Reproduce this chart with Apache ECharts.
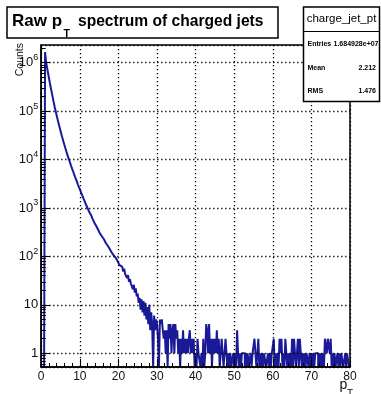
<!DOCTYPE html>
<html>
<head>
<meta charset="utf-8">
<script src="https://cdn.jsdelivr.net/npm/echarts@6/dist/echarts.min.js"></script>
<style>
  html, body { margin: 0; padding: 0; background: #fff; }
  #chart { width: 381px; height: 394px; }
</style>
</head>
<body>
<div id="chart"></div>
<script>
// Raw pT spectrum of charged jets: counts per 0.25 GeV bin, 0-80 GeV
const BIN_WIDTH = 0.25;

// 0 - 13 GeV
const countsCore = [
  0, 0, 0, 0,
  1660000, 1060000, 809000, 627000, 488000, 382000, 301000, 238000, 190000, 152000, 122000, 99300,
  81800, 67600, 56200, 46900, 39300, 33000, 27900, 23700, 20200, 17300, 14900, 12800, 11100, 9690, 8470, 7430,
  6520, 5740, 5060, 4460, 3940, 3490, 3090, 2740, 2440, 2170, 1930, 1730, 1540, 1390, 1230, 1120,
  1000, 915, 815, 755
];

// 13 - 30 GeV
const countsFall = [
  690, 612, 584, 503,
  482, 425, 409, 355,
  349, 296, 305, 258,
  259, 226, 224, 190,
  201, 166, 168, 143,
  147, 121, 133, 106,
  110, 95, 94, 81,
  86, 67, 71, 61,
  60, 49, 56, 43,
  45, 36, 41, 30,
  34, 27, 29, 21,
  26, 18, 22, 15,
  17, 11, 14, 8,
  13, 7, 12, 6,
  11, 5, 9, 4,
  10, 3, 7, 4,
  0, 6, 3, 5
];

// 30 - 80 GeV
const countsTail = [
  4, 2, 0, 5,   4, 5, 3, 2,   3, 1, 3, 0,   4, 2, 4, 1,   3, 4, 1, 4,
  2, 3, 1, 2,   0, 2, 1, 3,   1, 2, 1, 2,   1, 2, 3, 1,   2, 1, 2, 0,
  1, 0, 2, 1,   1, 0, 1, 0,   2, 0, 1, 4,   3, 1, 4, 1,   2, 0, 2, 1,
  2, 1, 3, 1,   2, 0, 1, 2,   1, 0, 1, 2,   1, 0, 1, 0,   1, 0, 0, 1,
  0, 1, 0, 3,   1, 0, 1, 0,   1, 1, 1, 0,   1, 0, 1, 0,   0, 1, 0, 1,
  1, 2, 1, 0,   1, 2, 0, 1,   0, 1, 0, 1,   1, 0, 0, 1,   0, 1, 0, 1,
  1, 2, 0, 1,   0, 1, 0, 2,   1, 2, 0, 1,   0, 2, 1, 0,   1, 0, 1, 0,
  2, 0, 2, 1,   0, 1, 2, 0,   2, 1, 0, 1,   0, 1, 0, 1,   1, 0, 1, 0,
  1, 0, 1, 0,   1, 1, 1, 0,   1, 0, 1, 0,   1, 0, 2, 2,   1, 2, 2, 1,
  2, 0, 1, 0,   1, 0, 0, 1,   0, 1, 0, 1,   1, 0, 0, 1,   0, 1, 1, 0
];

const xTicks = [0, 10, 20, 30, 40, 50, 60, 70, 80];
const Y_MIN = 0.5213;
const Y_MAX = 2.322e6;

const titleParts = ['Raw p', 'T', 'spectrum of charged jets'];
const statsName = 'charge_jet_pt';
const statsRows = [
  ['Entries', '1.684928e+07'],
  ['Mean', '2.212'],
  ['RMS', '1.476']
];
const xTitle = ['p', 'T'];
const yTitle = 'Counts';

const FONT = '"Liberation Sans", Arial, Helvetica, sans-serif';
const INK = '#111';
const LINE_BLUE = '#1a1a99';

// histogram as a step line over bin lower edges; empty bins sit on the axis floor
const counts = countsCore.concat(countsFall, countsTail);
const histPoints = counts.map((c, i) => [xTicks[0] + i * BIN_WIDTH, c > 0 ? c : Y_MIN]);
histPoints.push([xTicks[xTicks.length - 1], histPoints[histPoints.length - 1][1]]);

// minor ticks of the log axis (2..9 x 10^n), expressed in log10 units
const logLo = Math.log10(Y_MIN), logHi = Math.log10(Y_MAX);
const logMinor = [];
for (let e = -1; e <= 6; e++) {
  for (let k = 2; k <= 9; k++) {
    const v = e + Math.log10(k);
    if (v > logLo && v < logHi) logMinor.push(v);
  }
}

const dotted = { color: '#000', width: 1.3, type: [1.3, 2.7] };

function decadeLabel(v) {
  const lg = Math.log10(v);
  const e = Math.round(lg);
  if (Math.abs(lg - e) > 0.01) return '';
  if (e === 0) return '1';
  if (e === 1) return '10';
  return '10{sup|' + e + '}';
}

const chart = echarts.init(document.getElementById('chart'), null, { renderer: 'canvas' });

const option = {
  animation: false,
  backgroundColor: '#fff',
  grid: {
    left: 41.2, right: 31, top: 45, bottom: 27,
    show: true, borderColor: '#000', borderWidth: 1.5, backgroundColor: 'transparent', z: 3
  },
  xAxis: {
    type: 'value',
    min: xTicks[0], max: xTicks[xTicks.length - 1], interval: xTicks[1] - xTicks[0],
    z: 3,
    axisLine: { show: true, onZero: false, lineStyle: { color: '#000', width: 1.5 } },
    axisTick: { show: true, inside: true, length: 8, lineStyle: { color: '#000', width: 1 } },
    minorTick: { show: true, splitNumber: 5, length: 4, lineStyle: { color: '#000', width: 1 } },
    axisLabel: { margin: 4, fontFamily: FONT, fontSize: 12, color: INK },
    splitLine: { show: true, lineStyle: dotted },
    minorSplitLine: { show: false }
  },
  yAxis: [
    {
      type: 'log', logBase: 10, min: Y_MIN, max: Y_MAX, position: 'left', z: 3,
      axisLine: { show: true, onZero: false, lineStyle: { color: '#000', width: 1.5 } },
      axisTick: { show: true, inside: true, length: 9, lineStyle: { color: '#000', width: 1 } },
      axisLabel: {
        margin: 3, fontFamily: FONT, fontSize: 13, color: INK,
        showMinLabel: false, showMaxLabel: false,
        formatter: decadeLabel,
        rich: { sup: { fontFamily: FONT, fontSize: 9, color: INK, padding: [0, 0, 10, 0] } }
      },
      splitLine: { show: true, lineStyle: dotted }
    },
    {
      type: 'value', min: logLo, max: logHi, position: 'left', z: 3,
      axisLine: { show: false },
      axisLabel: { show: false },
      splitLine: { show: false },
      axisTick: { show: true, inside: true, length: 4.5, customValues: logMinor, lineStyle: { color: '#000', width: 1 } }
    }
  ],
  series: [{
    type: 'line',
    yAxisIndex: 0,
    data: histPoints,
    step: 'end',
    symbol: 'none',
    clip: true,
    silent: true,
    z: 2,
    lineStyle: { color: LINE_BLUE, width: 2 }
  }],
  graphic: [
    // title pave
    { type: 'rect', z: 10, shape: { x: 7, y: 7, width: 271, height: 31 },
      style: { fill: '#fff', stroke: '#000', lineWidth: 1.5 } },
    { type: 'text', z: 11, x: 12, y: 21.4,
      style: { text: titleParts[0], font: 'bold 17px ' + FONT, fill: '#000', verticalAlign: 'middle' } },
    { type: 'text', z: 11, x: 63.5, y: 34,
      style: { text: titleParts[1], font: 'bold 10.5px ' + FONT, fill: '#000', verticalAlign: 'middle' } },
    { type: 'text', z: 11, x: 78, y: 21.4,
      style: { text: titleParts[2], font: 'bold 15.6px ' + FONT, fill: '#000', verticalAlign: 'middle' } },

    // statistics box
    { type: 'rect', z: 10, shape: { x: 303.5, y: 7, width: 76, height: 94.5 },
      style: { fill: '#fff', stroke: '#000', lineWidth: 1.5 } },
    { type: 'line', z: 11, shape: { x1: 303.5, y1: 31.5, x2: 379.5, y2: 31.5 },
      style: { stroke: '#000', lineWidth: 1.2 } },
    { type: 'text', z: 11, x: 341.5, y: 19,
      style: { text: statsName, font: '11.5px ' + FONT, fill: '#000', align: 'center', verticalAlign: 'middle' } },
    { type: 'text', z: 11, x: 307.5, y: 44.3,
      style: { text: statsRows[0][0], font: 'bold 7px ' + FONT, fill: '#000', verticalAlign: 'middle' } },
    { type: 'text', z: 11, x: 378.5, y: 44.3,
      style: { text: statsRows[0][1], font: 'bold 7px ' + FONT, fill: '#000', align: 'right', verticalAlign: 'middle' } },
    { type: 'text', z: 11, x: 307.5, y: 67.7,
      style: { text: statsRows[1][0], font: 'bold 7px ' + FONT, fill: '#000', verticalAlign: 'middle' } },
    { type: 'text', z: 11, x: 376, y: 67.7,
      style: { text: statsRows[1][1], font: 'bold 7px ' + FONT, fill: '#000', align: 'right', verticalAlign: 'middle' } },
    { type: 'text', z: 11, x: 307.5, y: 91,
      style: { text: statsRows[2][0], font: 'bold 7px ' + FONT, fill: '#000', verticalAlign: 'middle' } },
    { type: 'text', z: 11, x: 376, y: 91,
      style: { text: statsRows[2][1], font: 'bold 7px ' + FONT, fill: '#000', align: 'right', verticalAlign: 'middle' } },

    // axis titles
    { type: 'text', z: 11, x: 20.5, y: 43, rotation: Math.PI / 2,
      style: { text: yTitle, font: '10.5px ' + FONT, fill: INK, align: 'right', verticalAlign: 'middle' } },
    { type: 'text', z: 11, x: 339.5, y: 385.5,
      style: { text: xTitle[0], font: '14px ' + FONT, fill: INK, verticalAlign: 'middle' } },
    { type: 'text', z: 11, x: 347, y: 394.5,
      style: { text: xTitle[1], font: '10px ' + FONT, fill: INK, verticalAlign: 'middle' } }
  ]
};

chart.setOption(option);
</script>
</body>
</html>
